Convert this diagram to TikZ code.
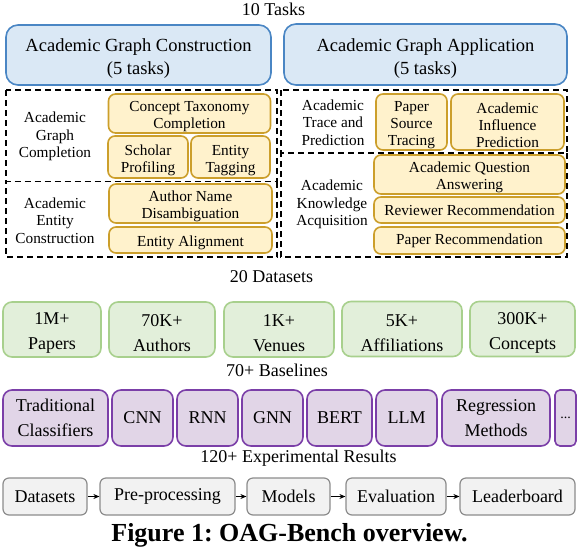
\documentclass[tikz,border=0pt]{standalone}
\usepackage{fontspec}
\setmainfont{Liberation Serif}
\frenchspacing
\usetikzlibrary{arrows.meta}
\newcommand\upstrut{\rule{0pt}{1.1em}}
\definecolor{bluefill}{HTML}{DAE8F5}
\definecolor{bluebd}{HTML}{4A86C4}
\definecolor{yelfill}{HTML}{FFF2CC}
\definecolor{yelbd}{HTML}{CC9F2B}
\definecolor{grnfill}{HTML}{E2EFDA}
\definecolor{grnbd}{HTML}{A8D08D}
\definecolor{purfill}{HTML}{E1D5E7}
\definecolor{purbd}{HTML}{7B3FA8}
\definecolor{gryfill}{HTML}{F2F2F2}
\definecolor{grybd}{HTML}{8C8C8C}
\tikzset{
  txtbase/.style={inner sep=0pt, align=center, text=black},
  head/.style={txtbase, anchor=base, font=\fontsize{18}{22}\selectfont},
  bluebox/.style={txtbase, draw=bluebd, fill=bluefill, line width=1.6pt, rounded corners=12pt, font=\fontsize{18.5}{23}\selectfont},
  yelbox/.style={txtbase, draw=yelbd, fill=yelfill, line width=1.6pt, rounded corners=7pt, font=\fontsize{15.3}{17}\selectfont},
  grpbox/.style={draw=black, line width=1.6pt, dash pattern=on 6pt off 4pt},
  grplabel/.style={txtbase, font=\fontsize{15.3}{17.5}\selectfont},
  grnbox/.style={txtbase, draw=grnbd, fill=grnfill, line width=1.6pt, rounded corners=9pt, minimum height=55pt, font=\fontsize{18}{25}\selectfont},
  purbox/.style={txtbase, draw=purbd, fill=purfill, line width=1.6pt, rounded corners=9pt, minimum height=56pt, font=\fontsize{18}{24.5}\selectfont},
  grybox/.style={txtbase, draw=grybd, fill=gryfill, line width=1.2pt, rounded corners=6pt, minimum height=37pt, font=\fontsize{18}{22}\selectfont},
  flow/.style={draw=black, line width=0.9pt, -{Stealth[length=6pt,width=5pt]}},
  caption/.style={txtbase, anchor=base, font=\fontsize{26}{30}\selectfont\bfseries}
}
\begin{document}
\begin{tikzpicture}[x=1pt,y=-1pt]
\useasboundingbox (0,0) rectangle (578,552);

% heading
\node[head] (h1) at (273.5,15) {10 Tasks};

% blue boxes
\node[bluebox, minimum width=265pt, minimum height=60pt] (bc) at (138.5,55) {\upstrut Academic Graph Construction\\(5 tasks)};
\node[bluebox, minimum width=283pt, minimum height=61pt] (ba) at (425.5,54.5) {\upstrut Academic Graph Application\\(5 tasks)};

% dashed groups
\draw[grpbox] (6,90) rectangle (277,181.5);
\draw[grpbox] (277,181.5) -- (277,257) -- (6,257) -- (6,181.5);
\draw[grpbox] (281,90) rectangle (567,153);
\draw[grpbox] (567,153) -- (567,257) -- (281,257) -- (281,153);

% group labels
\node[grplabel] (l1) at (55,136.5) {Academic\\Graph\\Completion};
\node[grplabel] (l2) at (55,220.5) {Academic\\Entity\\Construction};
\node[grplabel] (l3) at (333,122.5) {Academic\\Trace and\\Prediction};
\node[grplabel] (l4) at (332,204.5) {Academic\\Knowledge\\Acquisition};

% yellow task boxes
\node[yelbox, minimum width=162pt, minimum height=39pt] (y1) at (189.5,113.5) {\upstrut Concept Taxonomy\\Completion};
\node[yelbox, minimum width=80pt, minimum height=42pt] (y2) at (148,157) {\upstrut Scholar\\Profiling};
\node[yelbox, minimum width=79pt, minimum height=42pt] (y3) at (230.5,157) {\upstrut Entity\\Tagging};
\node[yelbox, minimum width=163pt, minimum height=39pt] (y4) at (190.5,203.5) {\upstrut Author Name\\Disambiguation};
\node[yelbox, minimum width=163pt, minimum height=26pt] (y5) at (190.5,240) {\upstrut Entity Alignment};
\node[yelbox, minimum width=71pt, minimum height=56pt] (y6) at (411.5,122) {\upstrut Paper\\Source\\Tracing};
\node[yelbox, minimum width=113pt, minimum height=56pt] (y7) at (507.5,122) {\upstrut Academic\\Influence\\Prediction};
\node[yelbox, minimum width=191pt, minimum height=39pt] (y8) at (469.5,174.5) {\upstrut Academic Question\\Answering};
\node[yelbox, minimum width=191pt, minimum height=26pt] (y9) at (469.5,210) {Reviewer Recommendation};
\node[yelbox, minimum width=191pt, minimum height=27pt] (y10) at (469.5,240.5) {Paper Recommendation};

% datasets
\node[head] (h2) at (271.5,282) {20 Datasets};
\node[grnbox, minimum width=98pt] (g1) at (52,329.5) {\upstrut 1M+\\Papers};
\node[grnbox, minimum width=106pt] (g2) at (162,329.5) {\upstrut 70K+\\Authors};
\node[grnbox, minimum width=110pt] (g3) at (279,329.5) {\upstrut 1K+\\Venues};
\node[grnbox, minimum width=120pt] (g4) at (402,329) {\upstrut 5K+\\Affiliations};
\node[grnbox, minimum width=105pt] (g5) at (522.5,329) {\upstrut 300K+\\Concepts};

% baselines
\node[head] (h3) at (277,376.5) {70+ Baselines};
\node[purbox, minimum width=105pt] (p1) at (55.5,418) {Traditional\\Classifiers};
\node[purbox, minimum width=61pt] (p2) at (142.5,418) {CNN};
\node[purbox, minimum width=61pt] (p3) at (207.5,418) {RNN};
\node[purbox, minimum width=61pt] (p4) at (272.5,418) {GNN};
\node[purbox, minimum width=65pt] (p5) at (339.5,418) {BERT};
\node[purbox, minimum width=61pt] (p6) at (406.5,418) {LLM};
\node[purbox, minimum width=108pt] (p7) at (496,418) {Regression\\Methods};
\node[purbox, minimum width=21pt, rounded corners=5pt, font=\fontsize{14}{16}\selectfont] (p8) at (565.5,418) {...};

% pipeline
\node[head] (h4) at (298.5,462) {120+ Experimental Results};
\node[grybox, minimum width=84pt] (q1) at (45,496.5) {Datasets};
\node[grybox, minimum width=135pt] (q2) at (167.5,496.5) {Pre-processing};
\node[grybox, minimum width=83pt] (q3) at (288.5,496.5) {Models};
\node[grybox, minimum width=100pt] (q4) at (396,496.5) {Evaluation};
\node[grybox, minimum width=115pt] (q5) at (517.5,496.5) {Leaderboard};
\draw[flow] (q1) -- (q2);
\draw[flow] (q2) -- (q3);
\draw[flow] (q3) -- (q4);
\draw[flow] (q4) -- (q5);

% caption
\node[caption] (cap) at (289.5,541) {Figure 1: OAG-Bench overview.};
\end{tikzpicture}
\end{document}
